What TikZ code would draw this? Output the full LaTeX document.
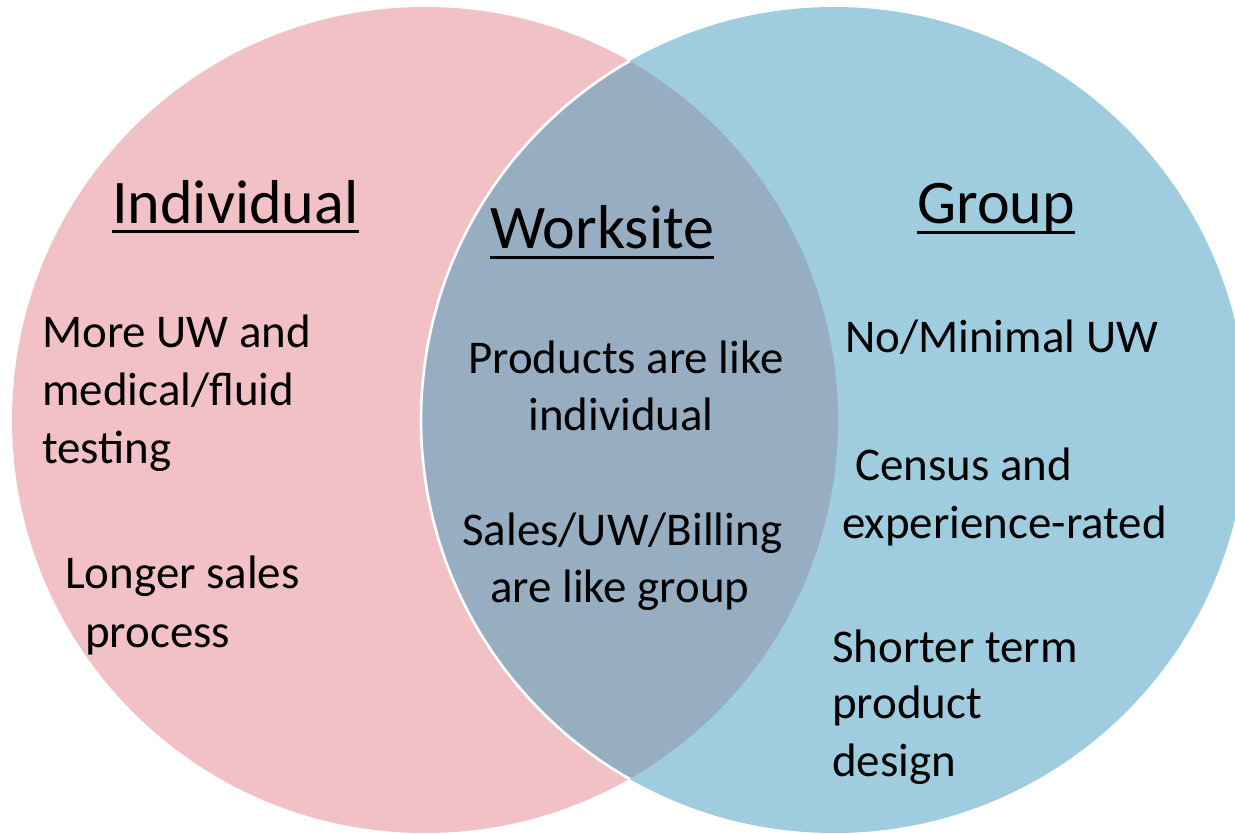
\documentclass[tikz,border=0pt]{standalone}
\usepackage{fontspec}
\setmainfont{Carlito}
\definecolor{pinkc}{HTML}{F2C1C5}
\definecolor{bluec}{HTML}{9FCCDF}
\definecolor{lensc}{HTML}{97AEC2}
\begin{document}
\begin{tikzpicture}[x=0.75pt,y=-0.75pt,
  body/.style={anchor=base west,inner sep=0pt,font=\fontsize{35.2}{40}\selectfont},
  head/.style={anchor=base west,inner sep=0pt,font=\fontsize{46.5}{52}\selectfont},
  uline/.style={line width=2.2pt,black}]
\useasboundingbox (0,0) rectangle (1235,833);
\coordinate (cl) at (425,420);
\coordinate (cr) at (834,420);
\fill[pinkc] (cl) circle[radius=413];
\fill[bluec] (cr) circle[radius=413];
\begin{scope}
  \clip (cl) circle[radius=413];
  \fill[lensc] (cr) circle[radius=413];
  \draw[white,line width=2pt] (cr) circle[radius=413];
\end{scope}
% headings
\node[head] (ind) at (112,223) {Individual};
\node[head] (wrk) at (490,248) {Worksite};
\node[head] (grp) at (917,223) {Group};
\draw[uline] ([yshift=-6.3pt]ind.base west) -- ([yshift=-6.3pt]ind.base east);
\draw[uline] ([yshift=-7pt]wrk.base west) -- ([yshift=-7pt]wrk.base east);
\draw[uline] ([yshift=-7pt]grp.base west) -- ([yshift=-7pt]grp.base east);
% left
\node[body] (l1) at (42,347) {More UW and};
\node[body] (l2) at (42,405) {medical/fluid};
\node[body] (l3) at (42,463) {testing};
\node[body] (l4) at (65,588) {Longer sales};
\node[body] (l5) at (85,647) {process};
% middle
\node[body] (m1) at (468,373) {Products are like};
\node[body] (m2) at (528,430) {individual};
\node[body] (m3) at (462,545) {Sales/UW/Billing};
\node[body] (m4) at (490,602) {are like group};
% right
\node[body] (r1) at (845,352) {No/Minimal UW};
\node[body] (r2) at (855,480) {Census and};
\node[body] (r3) at (842,538) {experience-rated};
\node[body] (r4) at (832,662) {Shorter term};
\node[body] (r5) at (832,718) {product};
\node[body] (r6) at (832,776) {design};
\end{tikzpicture}
\end{document}
